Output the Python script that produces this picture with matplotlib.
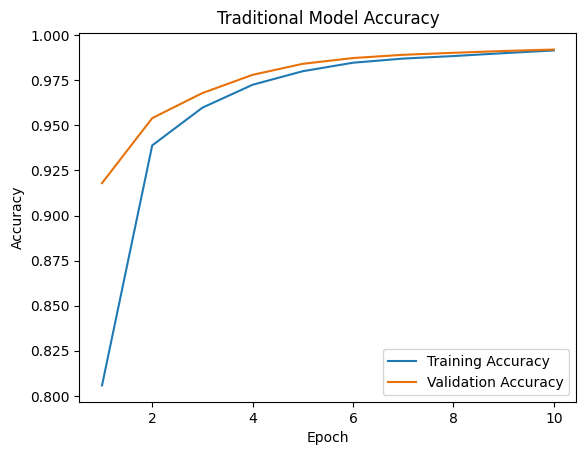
import numpy as np
import matplotlib.pyplot as plt

epochs = [1, 2, 3, 4, 5, 6, 7, 8, 9, 10]
train_acc = [0.8059, 0.9389, 0.9598, 0.9725, 0.9800, 0.9847, 0.9870, 0.9884, 0.9900, 0.9915]
val_acc = [0.9180, 0.9540, 0.9679, 0.9780, 0.9841, 0.9873, 0.9891, 0.9902, 0.9912, 0.9920]

fig = plt.figure(figsize=(5.84, 4.55), dpi=100)
ax = fig.add_subplot(111)
fig.subplots_adjust(left=0.136, right=0.987, top=0.928, bottom=0.116)

ax.plot(epochs, train_acc, label="Training Accuracy", color="#1f7ab4")
ax.plot(epochs, val_acc, label="Validation Accuracy", color="#e8710a")
ax.set_title("Traditional Model Accuracy")
ax.set_xlabel("Epoch")
ax.set_ylabel("Accuracy")
ax.legend(loc="lower right")

fig.savefig("out.png")
